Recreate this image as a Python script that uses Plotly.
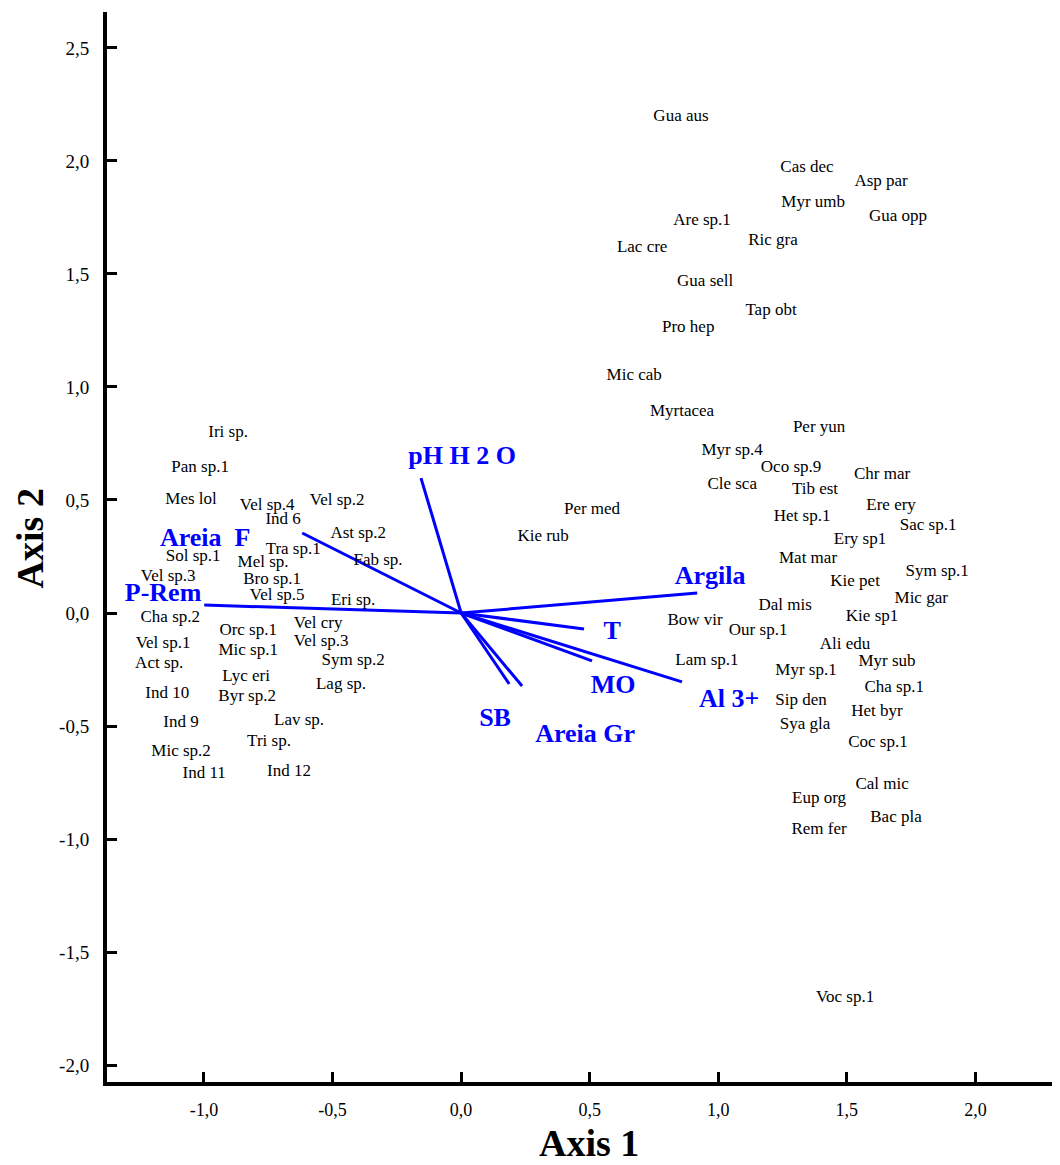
import plotly.graph_objects as go

# Species scores (Axis 1, Axis 2)
species = ["Gua aus", "Cas dec", "Asp par", "Myr umb", "Gua opp", "Are sp.1", "Ric gra", "Lac cre",
           "Gua sell", "Tap obt", "Pro hep", "Mic cab", "Myrtacea", "Per yun", "Myr sp.4", "Oco sp.9",
           "Chr mar", "Cle sca", "Tib est", "Per med", "Ere ery", "Het sp.1", "Sac sp.1", "Kie rub",
           "Ery sp1", "Mat mar", "Sym sp.1", "Kie pet", "Mic gar", "Dal mis", "Bow vir", "Kie sp1",
           "Our sp.1", "Ali edu", "Lam sp.1", "Myr sub", "Myr sp.1", "Cha sp.1", "Sip den", "Het byr",
           "Sya gla", "Coc sp.1", "Cal mic", "Eup org", "Bac pla", "Rem fer", "Voc sp.1",
           "Iri sp.", "Pan sp.1", "Mes lol", "Vel sp.4", "Vel sp.2", "Ind 6", "Ast sp.2", "Tra sp.1",
           "Sol sp.1", "Mel sp.", "Fab sp.", "Vel sp.3", "Bro sp.1", "Vel sp.5", "Eri sp.", "Cha sp.2",
           "Orc sp.1", "Vel cry", "Vel sp.1", "Mic sp.1", "Vel sp.3", "Act sp.", "Sym sp.2", "Lyc eri",
           "Lag sp.", "Ind 10", "Byr sp.2", "Ind 9", "Lav sp.", "Tri sp.", "Mic sp.2", "Ind 11", "Ind 12"]
axis1 = [0.855, 1.345, 1.633, 1.369, 1.699, 0.937, 1.213, 0.704,
         0.949, 1.205, 0.883, 0.673, 0.859, 1.392, 1.054, 1.283,
         1.637, 1.054, 1.376, 0.509, 1.672, 1.326, 1.816, 0.319,
         1.551, 1.349, 1.851, 1.532, 1.789, 1.260, 0.910, 1.598,
         1.155, 1.493, 0.956, 1.656, 1.341, 1.684, 1.322, 1.617,
         1.337, 1.621, 1.637, 1.392, 1.691, 1.392, 1.493,
         -0.906, -1.015, -1.050, -0.754, -0.482, -0.692, -0.400, -0.653,
         -1.042, -0.770, -0.323, -1.139, -0.735, -0.715, -0.420, -1.131,
         -0.828, -0.556, -1.159, -0.828, -0.544, -1.174, -0.420, -0.836,
         -0.467, -1.143, -0.832, -1.089, -0.630, -0.747, -1.089, -0.999, -0.669]
axis2 = [2.194, 1.968, 1.906, 1.813, 1.751, 1.734, 1.645, 1.614,
         1.464, 1.336, 1.261, 1.048, 0.889, 0.818, 0.716, 0.641,
         0.610, 0.566, 0.544, 0.456, 0.473, 0.425, 0.385, 0.336,
         0.323, 0.239, 0.181, 0.137, 0.062, 0.031, -0.035, -0.018,
         -0.080, -0.142, -0.212, -0.217, -0.257, -0.332, -0.389, -0.438,
         -0.495, -0.575, -0.761, -0.823, -0.907, -0.960, -1.703,
         0.796, 0.641, 0.500, 0.473, 0.495, 0.411, 0.349, 0.279,
         0.248, 0.221, 0.230, 0.159, 0.146, 0.075, 0.053, -0.022,
         -0.080, -0.049, -0.137, -0.168, -0.128, -0.226, -0.212, -0.283,
         -0.318, -0.358, -0.372, -0.487, -0.478, -0.571, -0.615, -0.712, -0.703]

# Environmental vectors
env_names = ["pH H 2 O", "Areia  F", "P-Rem", "Argila", "T", "MO", "Al 3+", "SB", "Areia Gr"]
env_x = [-0.156, -0.618, -0.999, 0.918, 0.478, 0.509, 0.859, 0.187, 0.237]
env_y = [0.597, 0.354, 0.035, 0.088, -0.071, -0.212, -0.305, -0.314, -0.323]
env_label_x = [0.004, -0.995, -1.159, 0.968, 0.587, 0.591, 1.042, 0.132, 0.482]
env_label_y = [0.686, 0.327, 0.084, 0.159, -0.088, -0.323, -0.389, -0.473, -0.540]

tick_vals_x = [-1.0, -0.5, 0.0, 0.5, 1.0, 1.5, 2.0]
tick_text_x = ["-1,0", "-0,5", "0,0", "0,5", "1,0", "1,5", "2,0"]
tick_vals_y = [-2.0, -1.5, -1.0, -0.5, 0.0, 0.5, 1.0, 1.5, 2.0, 2.5]
tick_text_y = ["-2,0", "-1,5", "-1,0", "-0,5", "0,0", "0,5", "1,0", "1,5", "2,0", "2,5"]

BLUE = "#0000FF"
SERIF = "Liberation Serif, Times New Roman, serif"

fig = go.Figure()

vx, vy = [], []
for x, y in zip(env_x, env_y):
    vx += [0, x, None]
    vy += [0, y, None]
fig.add_trace(go.Scatter(x=vx, y=vy, mode="lines", line=dict(color=BLUE, width=3),
                         hoverinfo="skip", showlegend=False))

fig.add_trace(go.Scatter(x=axis1, y=axis2, mode="text", text=species,
                         textposition="middle center",
                         textfont=dict(family=SERIF, size=17, color="black"),
                         showlegend=False))

fig.add_trace(go.Scatter(x=env_label_x, y=env_label_y, mode="text",
                         text=["<b>%s</b>" % n for n in env_names],
                         textposition="middle center",
                         textfont=dict(family=SERIF, size=26, color=BLUE),
                         showlegend=False))

axis_common = dict(showline=True, linewidth=4, linecolor="black", showgrid=False,
                   zeroline=False, ticks="inside", ticklen=10, tickwidth=3, tickcolor="black",
                   automargin=False)

# The page body adds an 8 px margin, so the figure is sized to compensate.
fig.update_layout(
    width=1052, height=1157,
    margin=dict(l=99, r=2, t=4, b=83),
    plot_bgcolor="white", paper_bgcolor="white",
    xaxis=dict(range=[-1.377, 2.321], tickvals=tick_vals_x, ticktext=tick_text_x,
               tickfont=dict(family=SERIF, size=18, color="black"), ticklabelstandoff=8,
               **axis_common),
    yaxis=dict(range=[-2.075, 2.659], tickvals=tick_vals_y, ticktext=tick_text_y,
               tickfont=dict(family=SERIF, size=19, color="black"), ticklabelstandoff=10,
               **axis_common),
    annotations=[
        dict(text="<b>Axis 1</b>", xref="paper", yref="paper", x=0.507, y=-0.057,
             xanchor="center", yanchor="middle", showarrow=False,
             font=dict(family=SERIF, size=38, color="black")),
        dict(text="<b>Axis 2</b>", xref="paper", yref="paper", x=-0.081, y=0.508,
             xanchor="center", yanchor="middle", showarrow=False, textangle=-90,
             font=dict(family=SERIF, size=38, color="black")),
    ],
)

fig.write_html("out.html")
